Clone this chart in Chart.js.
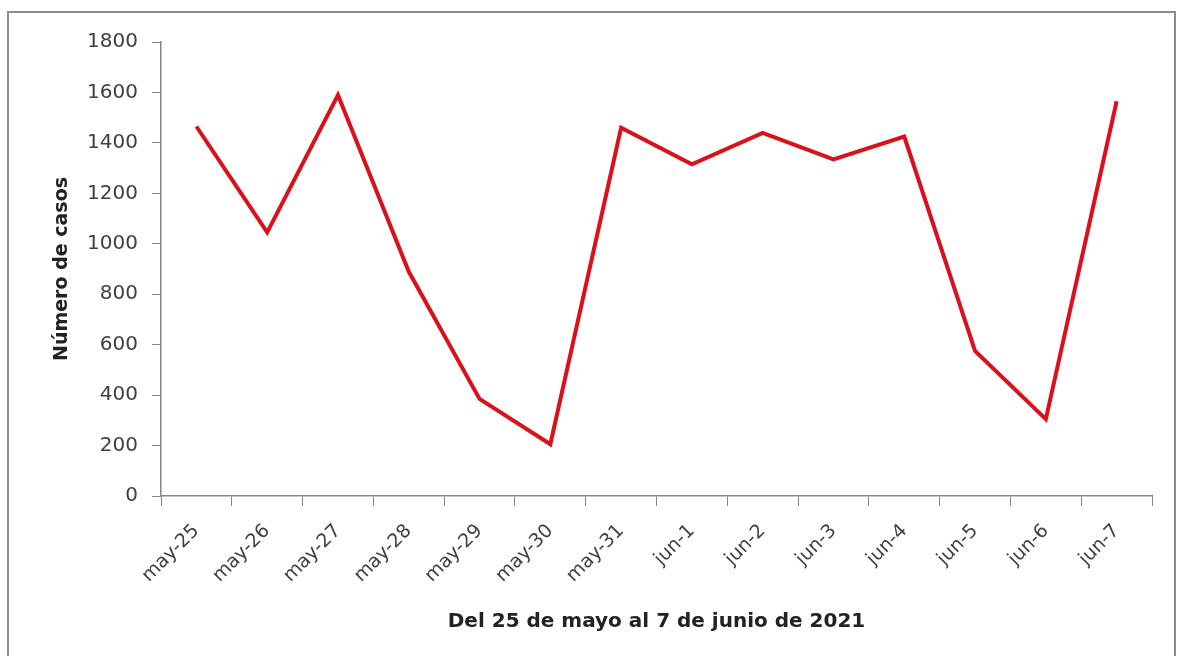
<!DOCTYPE html>
<html>
<head>
<meta charset="utf-8">
<script src="https://cdn.jsdelivr.net/npm/chart.js@4.4.0/dist/chart.umd.min.js"></script>
<style>
  html, body { margin: 0; padding: 0; background: #ffffff; }
  #wrap { width: 1183px; height: 656px; }
</style>
</head>
<body>
<div id="wrap"><canvas id="lineChart" width="1183" height="656"></canvas></div>
<script>
// Data
var days = ['may-25', 'may-26', 'may-27', 'may-28', 'may-29', 'may-30', 'may-31',
            'jun-1', 'jun-2', 'jun-3', 'jun-4', 'jun-5', 'jun-6', 'jun-7'];
var cases = [1465, 1045, 1590, 890, 385, 205, 1460, 1315, 1440, 1335, 1425, 575, 305, 1565];
var yMin = 0;
var yMax = 1800;
var yStep = 200;

var axisGray = '#868686';
var textGray = '#404040';
var fontFamily = '"DejaVu Sans", Verdana, sans-serif';

// outer frame round the chart
var framePlugin = {
    id: 'frame',
    beforeDraw: function(chart) {
        var ctx = chart.ctx;
        ctx.save();
        ctx.fillStyle = '#ffffff';
        ctx.fillRect(0, 0, chart.width, chart.height);
        ctx.strokeStyle = '#8c8c8c';
        ctx.lineWidth = 2;
        ctx.strokeRect(8, 12, 1167, 660);
        ctx.restore();
    }
};

document.addEventListener("DOMContentLoaded", function() {
    var ctxLine = document.getElementById('lineChart').getContext('2d');
    var lineChart = new Chart(ctxLine, {
        type: 'line',
        data: {
            labels: days,
            datasets: [{
                label: 'Número de casos',
                data: cases,
                borderColor: 'rgb(218, 16, 26)',
                borderWidth: 4,
                pointRadius: 0,
                tension: 0,
                fill: false
            }]
        },
        options: {
            responsive: false,
            animation: false,
            layout: {
                padding: { left: 47, top: 42, right: 31, bottom: 18 }
            },
            plugins: {
                legend: { display: false },
                tooltip: { enabled: false }
            },
            scales: {
                x: {
                    offset: true,
                    grid: {
                        offset: true,
                        drawOnChartArea: false,
                        drawTicks: true,
                        tickLength: 10,
                        color: axisGray
                    },
                    border: { color: axisGray, width: 1.5 },
                    ticks: {
                        minRotation: 45,
                        maxRotation: 45,
                        padding: 14,
                        color: textGray,
                        font: { family: fontFamily, size: 19 }
                    },
                    title: {
                        display: true,
                        text: 'Del 25 de mayo al 7 de junio de 2021',
                        color: '#222222',
                        padding: { top: 4, bottom: 4 },
                        font: { family: fontFamily, size: 20, weight: 'bold' }
                    },
                    afterFit: function(scale) { scale.height = 142; }
                },
                y: {
                    min: yMin,
                    max: yMax,
                    grid: {
                        drawOnChartArea: false,
                        drawTicks: true,
                        tickLength: 9,
                        color: axisGray
                    },
                    border: { color: axisGray, width: 1.5 },
                    ticks: {
                        stepSize: yStep,
                        padding: 14,
                        color: textGray,
                        font: { family: fontFamily, size: 20 },
                        callback: function(value) { return String(value); }
                    },
                    title: {
                        display: true,
                        text: 'Número de casos',
                        color: '#222222',
                        padding: { top: 4, bottom: 4 },
                        font: { family: fontFamily, size: 19, weight: 'bold' }
                    },
                    afterFit: function(scale) { scale.width = 114; }
                }
            }
        },
        plugins: [framePlugin]
    });
});
</script>
</body>
</html>
